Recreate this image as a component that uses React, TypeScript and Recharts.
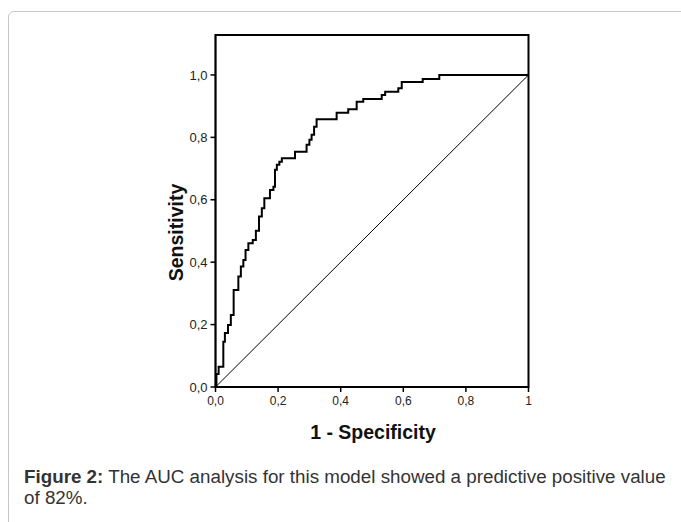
import React from "react";
import { LineChart, Line, XAxis, YAxis, ReferenceArea, Label } from "recharts";

// ROC staircase vertices (1 - specificity, sensitivity), drawn with stepAfter
const FPR = [0, 0.003, 0.010, 0.025, 0.030, 0.040, 0.049, 0.058, 0.073, 0.081, 0.089, 0.096, 0.105, 0.119, 0.129, 0.139, 0.148, 0.156, 0.174, 0.185, 0.190, 0.196, 0.204, 0.212, 0.254, 0.291, 0.300, 0.307, 0.315, 0.323, 0.387, 0.424, 0.451, 0.472, 0.531, 0.542, 0.584, 0.595, 0.662, 0.715, 1.0];
const TPR = [0, 0.042, 0.065, 0.145, 0.173, 0.199, 0.231, 0.311, 0.354, 0.386, 0.407, 0.439, 0.461, 0.471, 0.501, 0.546, 0.573, 0.605, 0.631, 0.642, 0.696, 0.712, 0.722, 0.733, 0.754, 0.776, 0.792, 0.808, 0.834, 0.858, 0.879, 0.890, 0.914, 0.923, 0.936, 0.946, 0.957, 0.977, 0.987, 1.0, 1.0];
const DIAG_X = [0, 1];
const DIAG_Y = [0, 1];
const X_TICKS = [0, 0.2, 0.4, 0.6, 0.8, 1];
const Y_TICKS = [0, 0.2, 0.4, 0.6, 0.8, 1];
const Y_MAX = 1.128;

const roc = FPR.map((f, i) => ({ fpr: f, tpr: TPR[i] }));
const diag = DIAG_X.map((f, i) => ({ fpr: f, tpr: DIAG_Y[i] }));

const FONT = "'Liberation Sans', Arial, Helvetica, sans-serif";
const fmt = (v: number) => (v === 1 ? "1" : v.toFixed(1).replace(".", ","));
const fmtY = (v: number) => v.toFixed(1).replace(".", ",");

export default function App() {
  return (
    <div style={{ position: "absolute", left: 0, top: 0, width: 681, height: 522, overflow: "hidden", background: "#fff", fontFamily: FONT }}>
      <div style={{ position: "absolute", left: 8, top: 11, width: 720, height: 560, border: "1px solid #c6c6c6", borderRadius: 6, boxSizing: "border-box" }} />
      <div style={{ position: "absolute", left: 0, top: 0 }}>
        <LineChart width={681} height={522} margin={{ top: 35, right: 152.5, left: 175.5, bottom: 105 }}>
          <XAxis
            type="number"
            dataKey="fpr"
            domain={[0, 1]}
            ticks={X_TICKS}
            tickFormatter={fmt}
            height={30}
            axisLine={{ stroke: "#000", strokeWidth: 1.5 }}
            tickLine={{ stroke: "#000", strokeWidth: 1.5 }}
            tickSize={5}
            tickMargin={4}
            tick={{ fill: "#222", fontSize: 12, fontFamily: FONT }}
            allowDataOverflow
          >
            <Label
              content={() => (
                <text x={373} y={439} textAnchor="middle" fontFamily={FONT} fontWeight="bold" fontSize={19.5} fill="#111">
                  1 - Specificity
                </text>
              )}
            />
          </XAxis>
          <YAxis
            type="number"
            domain={[0, Y_MAX]}
            ticks={Y_TICKS}
            tickFormatter={fmtY}
            width={40}
            axisLine={{ stroke: "#000", strokeWidth: 1.5 }}
            tickLine={{ stroke: "#000", strokeWidth: 1.5 }}
            tickSize={5}
            tickMargin={3}
            tick={{ fill: "#222", fontSize: 13, fontFamily: FONT }}
            allowDataOverflow
          >
            <Label
              content={() => (
                <text x={183} y={232.5} transform="rotate(-90 183 232.5)" textAnchor="middle" fontFamily={FONT} fontWeight="bold" fontSize={19.5} fill="#111">
                  Sensitivity
                </text>
              )}
            />
          </YAxis>
          <ReferenceArea x1={0} x2={1} y1={0} y2={Y_MAX} fill="none" fillOpacity={0} stroke="#000" strokeWidth={2} ifOverflow="visible" />
          <Line data={diag} dataKey="tpr" type="linear" stroke="#000" strokeWidth={1} dot={false} isAnimationActive={false} />
          <Line data={roc} dataKey="tpr" type="stepAfter" stroke="#000" strokeWidth={2} dot={false} isAnimationActive={false} />
        </LineChart>
      </div>
      <div style={{ position: "absolute", left: 24, top: 466, width: 652, fontSize: 18.8, lineHeight: "21px", color: "#333", fontFamily: FONT }}>
        <b>Figure 2:</b> The AUC analysis for this model showed a predictive positive value of 82%.
      </div>
    </div>
  );
}
